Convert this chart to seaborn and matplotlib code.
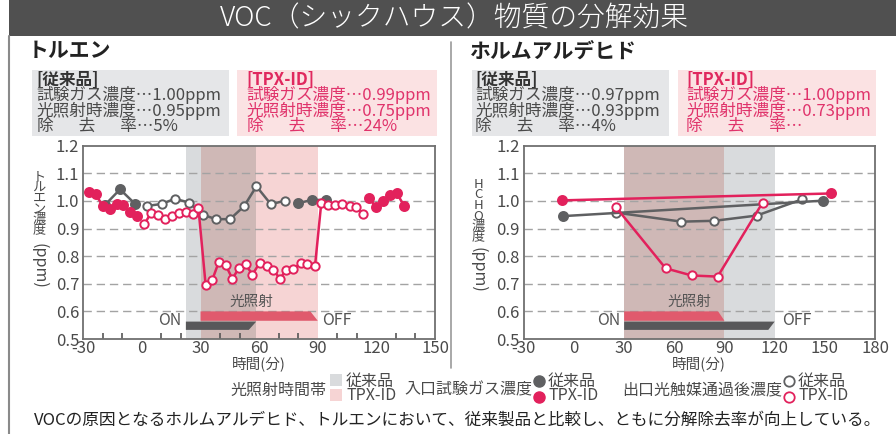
import pandas as pd
import seaborn as sns
import matplotlib.pyplot as plt
from matplotlib.patches import Rectangle, Polygon
from matplotlib.lines import Line2D
from matplotlib.ticker import MultipleLocator

# ---- トルエン : 時間(分) と 濃度(ppm) ----
tol_in_conv_t = [-18.7, -11.2, -3.6, 80.0, 87.3, 94.0]
tol_in_conv = [0.987, 1.042, 0.990, 0.992, 1.004, 1.003]
tol_in_conv_seg = [0, 0, 0, 1, 1, 1]

tol_in_tpx_t = [-27.3, -23.7, -20.1, -16.3, -12.9, -9.8, -6.1, -2.4,
                116.3, 119.9, 123.5, 126.8, 130.4, 134.2]
tol_in_tpx = [1.031, 1.025, 0.982, 0.970, 0.989, 0.985, 0.961, 0.946,
              1.009, 0.978, 0.998, 1.021, 1.029, 0.982]
tol_in_tpx_seg = [0] * 8 + [1] * 6

tol_out_conv_t = [2.7, 10.1, 16.9, 24.1, 31.2, 37.9, 45.1, 52.3, 58.6, 66.0, 73.3]
tol_out_conv = [0.982, 0.989, 1.008, 0.994, 0.950, 0.934, 0.934, 0.981, 1.053, 0.988, 1.001]

tol_out_tpx_t = [1.2, 4.7, 8.1, 11.8, 15.3, 19.2, 22.6, 26.0, 28.9,
                 32.6, 36.0, 39.4, 42.9, 46.3, 49.7, 53.1, 56.5, 60.4, 64.2,
                 67.3, 70.7, 73.7, 77.5, 81.2, 84.7, 88.6,
                 91.8, 95.4, 99.0, 102.6, 106.3, 109.6, 113.4]
tol_out_tpx = [0.915, 0.957, 0.949, 0.933, 0.945, 0.955, 0.961, 0.951, 0.976,
               0.697, 0.714, 0.780, 0.767, 0.718, 0.758, 0.771, 0.733, 0.777, 0.765,
               0.751, 0.717, 0.750, 0.752, 0.775, 0.773, 0.765,
               0.993, 0.987, 0.987, 0.989, 0.980, 0.978, 0.951]

tol_light_conv = [22.5, 58.5]
tol_light_tpx = [30, 90]

# ---- ホルムアルデヒド ----
hcho_in_conv_t = [-6.5, 149.0]
hcho_in_conv = [0.945, 1.001]
hcho_in_tpx_t = [-7.0, 153.5]
hcho_in_tpx = [1.002, 1.027]
hcho_out_conv_t = [24.9, 64.2, 83.9, 109.3, 136.5]
hcho_out_conv = [0.958, 0.925, 0.928, 0.947, 1.006]
hcho_out_tpx_t = [24.9, 54.8, 70.4, 85.9, 112.8]
hcho_out_tpx = [0.979, 0.756, 0.730, 0.726, 0.994]

hcho_light_conv = [30, 120]
hcho_light_tpx = [30, 90]

y_ticks = [0.5, 0.6, 0.7, 0.8, 0.9, 1.0, 1.1, 1.2]

RED = '#e2215c'
GRAY = '#5f6062'
BAND_GRAY = '#d9dbdd'
BAND_PINK = '#f6d4d4'
BAND_MIX = '#cfb8b6'
BAR_RED = '#e05a6d'
BAR_GRAY = '#58585a'
TXT = '#4a4a4a'

sns.set_theme(style="white")
plt.rcParams['font.family'] = ['Noto Sans CJK JP', 'DejaVu Sans']
plt.rcParams['axes.unicode_minus'] = False

W, H = 896, 434
fig = plt.figure(figsize=(W / 100, H / 100), dpi=100)


def P(x, y):
    return (x / W, 1 - y / H)


def frame(t, v, seg=None):
    return pd.DataFrame({'t': t, 'v': v, 'seg': seg if seg is not None else [0] * len(t)})


def series(ax, df, color, hollow, z):
    sns.lineplot(data=df, x='t', y='v', units='seg', estimator=None, sort=False,
                 color=color, lw=1.8, marker='o',
                 markersize=6 if hollow else 6.5,
                 markerfacecolor='white' if hollow else color,
                 markeredgecolor=color, markeredgewidth=1.4,
                 legend=False, ax=ax, zorder=z)
    ax.set_xlabel('')
    ax.set_ylabel('')


def panel(ax, light_conv, light_tpx, xmax, minor, on_x, off_x, label_x):
    ax.axvspan(*light_conv, color=BAND_GRAY, lw=0, zorder=0)
    ax.axvspan(*light_tpx, color=BAND_PINK, lw=0, zorder=0)
    lo, hi = max(light_conv[0], light_tpx[0]), min(light_conv[1], light_tpx[1])
    ax.axvspan(lo, hi, color=BAND_MIX, lw=0, zorder=0.5)

    s, e = light_tpx
    ax.add_patch(Polygon([(s, 0.600), (e - 3.8, 0.600), (e, 0.566), (s, 0.566)],
                         closed=True, color=BAR_RED, lw=0, zorder=1.5))
    s, e = light_conv
    ax.add_patch(Polygon([(s, 0.563), (e, 0.563), (e - 3.8, 0.533), (s, 0.533)],
                         closed=True, color=BAR_GRAY, lw=0, zorder=1.5))
    ax.text(on_x, 0.566, 'ON', ha='right', va='center', fontsize=11.5, color='#555')
    ax.text(off_x, 0.566, 'OFF', ha='left', va='center', fontsize=11.5, color='#555')
    ax.text(label_x, 0.635, '光照射', ha='center', va='center', fontsize=10.5, color='#555')

    for yv in y_ticks[1:-1]:
        ax.axhline(yv, color='#a3a3a3', lw=1.0, ls=(0, (6, 3.5)), zorder=1)

    ax.set_xlim(-30, xmax)
    ax.set_ylim(0.5, 1.2)
    ax.set_xticks(range(-30, xmax + 1, 30))
    ax.set_yticks(y_ticks)
    ax.set_yticklabels([f'{v:.1f}' for v in y_ticks])
    if minor:
        ax.xaxis.set_minor_locator(MultipleLocator(10))
    ax.tick_params(axis='x', which='major', direction='in', length=6, width=1.2,
                   color='#555', labelsize=12, labelcolor=TXT, pad=0.5)
    ax.tick_params(axis='x', which='minor', direction='in', length=4, width=1.2,
                   color='#555', bottom=True)
    ax.tick_params(axis='y', length=0, labelsize=12, labelcolor=TXT, pad=3)
    for sp in ax.spines.values():
        sp.set_color('#707070')
        sp.set_linewidth(1.3)
    ax.set_facecolor('white')


ax1 = fig.add_axes([83.3 / W, 1 - 339 / H, (435 - 83.3) / W, (339 - 145.7) / H])
ax2 = fig.add_axes([523.8 / W, 1 - 339 / H, (875 - 523.8) / W, (339 - 145.7) / H])

panel(ax1, tol_light_conv, tol_light_tpx, 150, True, 20.4, 92.1, 56)
series(ax1, frame(tol_out_conv_t, tol_out_conv), GRAY, True, 3)
series(ax1, frame(tol_in_conv_t, tol_in_conv, tol_in_conv_seg), GRAY, False, 3)
series(ax1, frame(tol_out_tpx_t, tol_out_tpx), RED, True, 4)
series(ax1, frame(tol_in_tpx_t, tol_in_tpx, tol_in_tpx_seg), RED, False, 4)

panel(ax2, hcho_light_conv, hcho_light_tpx, 180, False, 27.5, 124.2, 69)
series(ax2, frame(hcho_out_conv_t, hcho_out_conv), GRAY, True, 3)
series(ax2, frame(hcho_in_conv_t, hcho_in_conv), GRAY, False, 3)
series(ax2, frame(hcho_out_tpx_t, hcho_out_tpx), RED, True, 4)
series(ax2, frame(hcho_in_tpx_t, hcho_in_tpx), RED, False, 4)

# x labels
fig.text(*P(259, 365), '時間(分)', ha='center', va='center', fontsize=10.5, color=TXT)
fig.text(*P(699, 365), '時間(分)', ha='center', va='center', fontsize=10.5, color=TXT)

# vertical y labels (縦書き)
fig.text(*P(39, 171), 'ト\nル\nエ\nン\n濃\n度', ha='center', va='top', fontsize=9.5,
         linespacing=0.75, color=TXT)
fig.text(*P(39, 243), '(ppm)', ha='center', va='top', rotation=-90, fontsize=11.5, color=TXT)
fig.text(*P(478, 178), 'H\nC\nH\nO\n濃\n度', ha='center', va='top', fontsize=9.5,
         linespacing=0.75, color=TXT)
fig.text(*P(478, 247), '(ppm)', ha='center', va='top', rotation=-90, fontsize=11.5, color=TXT)

# title bar and frame
fig.patches.append(Rectangle(P(9, 36), (W - 9) / W, 36 / H, transform=fig.transFigure,
                             color='#505050', lw=0, zorder=0))
fig.text(*P(454, 18), 'VOC（シックハウス）物質の分解効果', ha='center', va='center',
         fontsize=20, fontweight='light', color='white')
fig.add_artist(Line2D([9 / W, 9 / W], [0, 1 - 36 / H], color='#8a8a8a', lw=1.5))
fig.add_artist(Line2D([451 / W, 451 / W], [1 - 368 / H, 1 - 42 / H], color='#9a9a9a', lw=1.2))

# panel headings
fig.text(*P(28, 51), 'トルエン', ha='left', va='center', fontsize=15, fontweight='bold', color='#222')
fig.text(*P(470, 51), 'ホルムアルデヒド', ha='left', va='center', fontsize=15, fontweight='bold', color='#222')

# info boxes
boxes = [
    (31.7, 229, 36.7, '#e5e6e8', '#4a4a4a', '#333',
     ['[従来品]', '試験ガス濃度…1.00ppm', '光照射時濃度…0.95ppm', '除\u2002\u3000去\u2002\u3000率…5%']),
    (237, 436.7, 246.7, '#fbe2e3', '#e0336b', '#e0285e',
     ['[TPX-ID]', '試験ガス濃度…0.99ppm', '光照射時濃度…0.75ppm', '除\u2002\u3000去\u2002\u3000率…24%']),
    (471.7, 669, 475, '#e5e6e8', '#4a4a4a', '#333',
     ['[従来品]', '試験ガス濃度…0.97ppm', '光照射時濃度…0.93ppm', '除\u2002\u3000去\u2002\u3000率…4%']),
    (677.7, 876, 686, '#fbe2e3', '#e0336b', '#e0285e',
     ['[TPX-ID]', '試験ガス濃度…1.00ppm', '光照射時濃度…0.73ppm', '除\u2002\u3000去\u2002\u3000率…']),
]
line_y = [80, 95.5, 111, 126.5]
for x0, x1, tx, bg, col, hcol, lines in boxes:
    fig.patches.append(Rectangle(P(x0, 136), (x1 - x0) / W, 66 / H, transform=fig.transFigure,
                                 color=bg, lw=0, zorder=0))
    for i, (ly, s) in enumerate(zip(line_y, lines)):
        fig.text(*P(tx, ly), s, ha='left', va='center', fontsize=12,
                 color=hcol if i == 0 else col, fontweight='bold' if i == 0 else 'normal')

# legend row
LG = 11.5
fig.text(*P(326, 390), '光照射時間帯', ha='right', va='center', fontsize=LG, color=TXT)
fig.patches.append(Rectangle(P(330, 386), 12 / W, 12 / H, transform=fig.transFigure,
                             color=BAND_GRAY, lw=0))
fig.patches.append(Rectangle(P(330, 401), 12 / W, 12 / H, transform=fig.transFigure,
                             color=BAND_PINK, lw=0))
fig.text(*P(346, 381), '従来品', ha='left', va='center', fontsize=LG, color=TXT)
fig.text(*P(346, 396), 'TPX-ID', ha='left', va='center', fontsize=LG, color=TXT)

fig.text(*P(532, 390), '入口試験ガス濃度', ha='right', va='center', fontsize=LG, color=TXT)
fig.add_artist(Line2D([539 / W], [1 - 381 / H], marker='o', ms=8, color=GRAY, mec=GRAY))
fig.add_artist(Line2D([539 / W], [1 - 397 / H], marker='o', ms=8, color=RED, mec=RED))
fig.text(*P(548, 381), '従来品', ha='left', va='center', fontsize=LG, color=TXT)
fig.text(*P(548, 396), 'TPX-ID', ha='left', va='center', fontsize=LG, color=TXT)

fig.text(*P(782, 390), '出口光触媒通過後濃度', ha='right', va='center', fontsize=LG, color=TXT)
fig.add_artist(Line2D([789 / W], [1 - 381 / H], marker='o', ms=7.5, mfc='white', mec=GRAY, mew=1.3))
fig.add_artist(Line2D([789 / W], [1 - 397 / H], marker='o', ms=7.5, mfc='white', mec=RED, mew=1.3))
fig.text(*P(798, 381), '従来品', ha='left', va='center', fontsize=LG, color=TXT)
fig.text(*P(798, 396), 'TPX-ID', ha='left', va='center', fontsize=LG, color=TXT)

fig.text(*P(458, 420), 'VOCの原因となるホルムアルデヒド、トルエンにおいて、従来製品と比較し、ともに分解除去率が向上している。',
         ha='center', va='center', fontsize=12, color='#222')

fig.savefig('out.png', dpi=100)
